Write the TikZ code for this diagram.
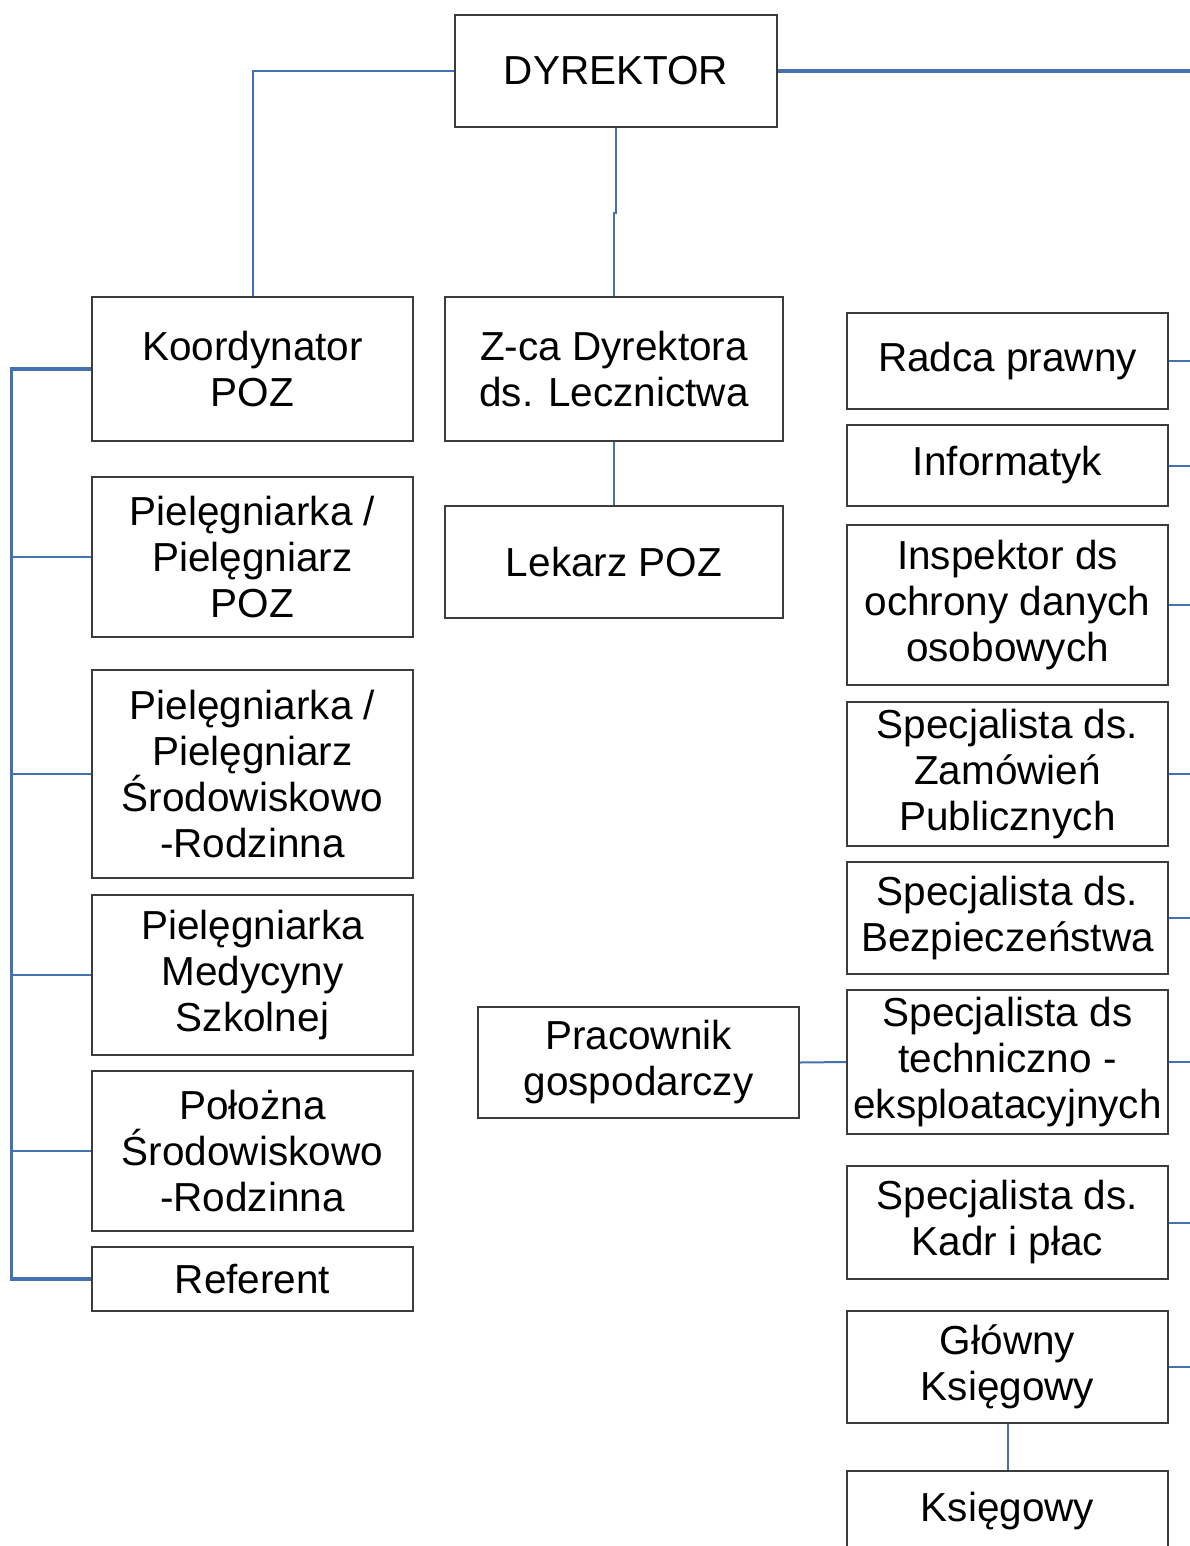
\documentclass[tikz,border=0pt]{standalone}
\usepackage{fontspec}
\setmainfont{Liberation Sans}
\usepackage{xcolor}
\usetikzlibrary{positioning}
\definecolor{linkblue}{RGB}{68,114,176}
\definecolor{boxgray}{RGB}{60,60,60}

\begin{document}
\begin{tikzpicture}[x=1pt,y=-1pt]
      \tikzstyle{post}=[rectangle,draw=boxgray,line width=1.8pt,fill=white,inner sep=0pt,
        minimum width=321pt,align=center,font=\fontsize{40.5}{46}\selectfont]
      \tikzstyle{link}=[draw=linkblue,line width=2pt]
      \tikzstyle{mainlink}=[draw=linkblue,line width=3.2pt]
      \clip (0,0) rectangle (1190,1546);
      \coordinate (edge) at (1190,0);
      % top
      \node[post, minimum width=322pt, minimum height=112pt] (dyr) at (616,71) {DYREKTOR};
      \node[post, minimum height=144pt] (koord) at (252.5,369) {Koordynator\\POZ};
      \node[post, minimum width=338pt, minimum height=144pt] (zca) at (614,369) {Z-ca Dyrektora\\ds. Lecznictwa};
      \node[post, minimum width=338pt, minimum height=112pt] (lekarz) at (614,562) {Lekarz POZ};
      % left column
      \node[post, minimum height=160pt] (pielpoz) at (252.5,557) {Pielęgniarka /\\Pielęgniarz\\POZ};
      \node[post, minimum height=208pt] (pielsr) at (252.5,774) {Pielęgniarka /\\Pielęgniarz\\Środowiskowo\\-Rodzinna};
      \node[post, minimum height=160pt] (pielszk) at (252.5,975) {Pielęgniarka\\Medycyny\\Szkolnej};
      \node[post, minimum height=160pt] (polozna) at (252.5,1151) {Położna\\Środowiskowo\\-Rodzinna};
      \node[post, minimum height=64pt] (referent) at (252.5,1279) {Referent};
      % right column
      \node[post, minimum height=96pt] (radca) at (1007.5,361) {Radca prawny};
      \node[post, minimum height=81pt] (inform) at (1007.5,465.5) {Informatyk};
      \node[post, minimum height=160pt] (inspektor) at (1007.5,605) {Inspektor ds\\ochrony danych\\osobowych};
      \node[post, minimum height=144pt] (zamow) at (1007.5,774) {Specjalista ds.\\Zamówień\\Publicznych};
      \node[post, minimum height=112pt] (bezp) at (1007.5,918) {Specjalista ds.\\Bezpieczeństwa};
      \node[post, minimum height=144pt] (tech) at (1007.5,1062) {Specjalista ds\\techniczno -\\eksploatacyjnych};
      \node[post, minimum height=113pt] (kadry) at (1007.5,1222.5) {Specjalista ds.\\Kadr i płac};
      \node[post, minimum height=112pt] (glowny) at (1007.5,1367) {Główny\\Księgowy};
      \node[post, minimum height=80pt] (ksieg) at (1007.5,1511) {Księgowy};
      \node[post, minimum height=111pt] (pracownik) at (638.5,1062.5) {Pracownik\\gospodarczy};
      % connectors
      \draw[link] (dyr.west) -| (koord.north);
      \draw[link] (dyr.south) -- ++(0,85) -| (zca.north);
      \draw[mainlink] (dyr.east) -- (dyr.east -| edge);
      \draw[link] (zca.south) -- (lekarz.north);
      \draw[mainlink] (koord.west) -- ++(-80,0) |- (referent.west);
      \foreach \n in {pielpoz,pielsr,pielszk,polozna}
        \draw[link] (\n.west) -- ++(-80,0);
      \foreach \n in {radca,inform,inspektor,zamow,bezp,tech,kadry,glowny}
        \draw[link] (\n.east) -- (\n.east -| edge);
      \draw[link] (pracownik.east) -- (tech.west);
      \draw[link] (glowny.south) -- (ksieg.north);
    \end{tikzpicture}
\end{document}
